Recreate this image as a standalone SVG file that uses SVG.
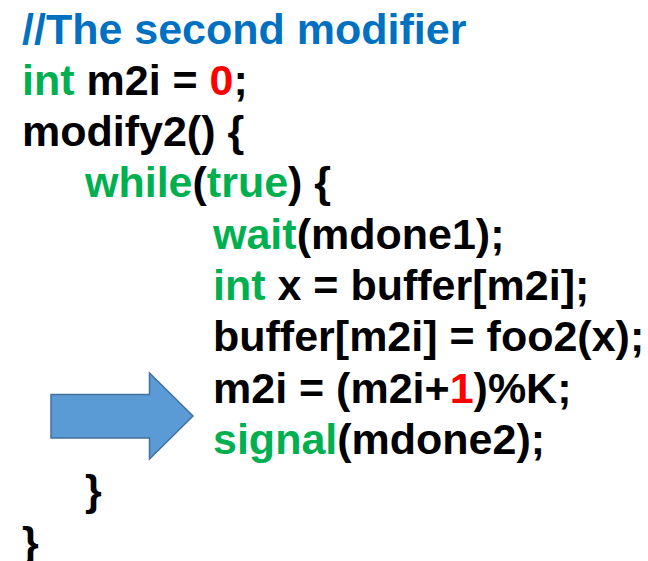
<svg xmlns="http://www.w3.org/2000/svg" width="648" height="561" viewBox="0 0 648 561">
  <style>
    .code { font-family: "Liberation Sans", Arial, sans-serif; font-weight: bold; font-size: 43px; fill: #000000; white-space: pre; }
    .kw { fill: #00B050; }
    .num { fill: #FF0000; }
    .cmt { fill: #0070C0; }
  </style>
  <rect width="648" height="561" fill="#FFFFFF"/>
  <g id="code">
    <text class="code" x="22" y="43.5"><tspan class="cmt">//The second modifier</tspan></text>
    <text class="code" x="22" y="94.8"><tspan class="kw">int</tspan> m2i = <tspan class="num">0</tspan>;</text>
    <text class="code" x="22" y="146.1">modify2() {</text>
    <text class="code" x="85" y="197.4"><tspan class="kw">while</tspan>(<tspan class="kw">true</tspan>) {</text>
    <text class="code" x="213" y="248.7"><tspan class="kw">wait</tspan>(mdone1);</text>
    <text class="code" x="213" y="300"><tspan class="kw">int</tspan> x = buffer[m2i];</text>
    <text class="code" x="213" y="351.3">buffer[m2i] = foo2(x);</text>
    <text class="code" x="213" y="402.6">m2i = (m2i+<tspan class="num">1</tspan>)%K;</text>
    <text class="code" x="213" y="453.9"><tspan class="kw">signal</tspan>(mdone2);</text>
    <text class="code" x="85" y="505.2">}</text>
    <text class="code" x="22" y="556.5">}</text>
  </g>
  <g id="pointer">
    <polygon points="51,394.5 149.5,394.5 149.5,373 193,416 149.5,459 149.5,438 51,438" fill="#5B9BD5" stroke="#41719C" stroke-width="1.5" stroke-linejoin="miter"/>
  </g>
</svg>
